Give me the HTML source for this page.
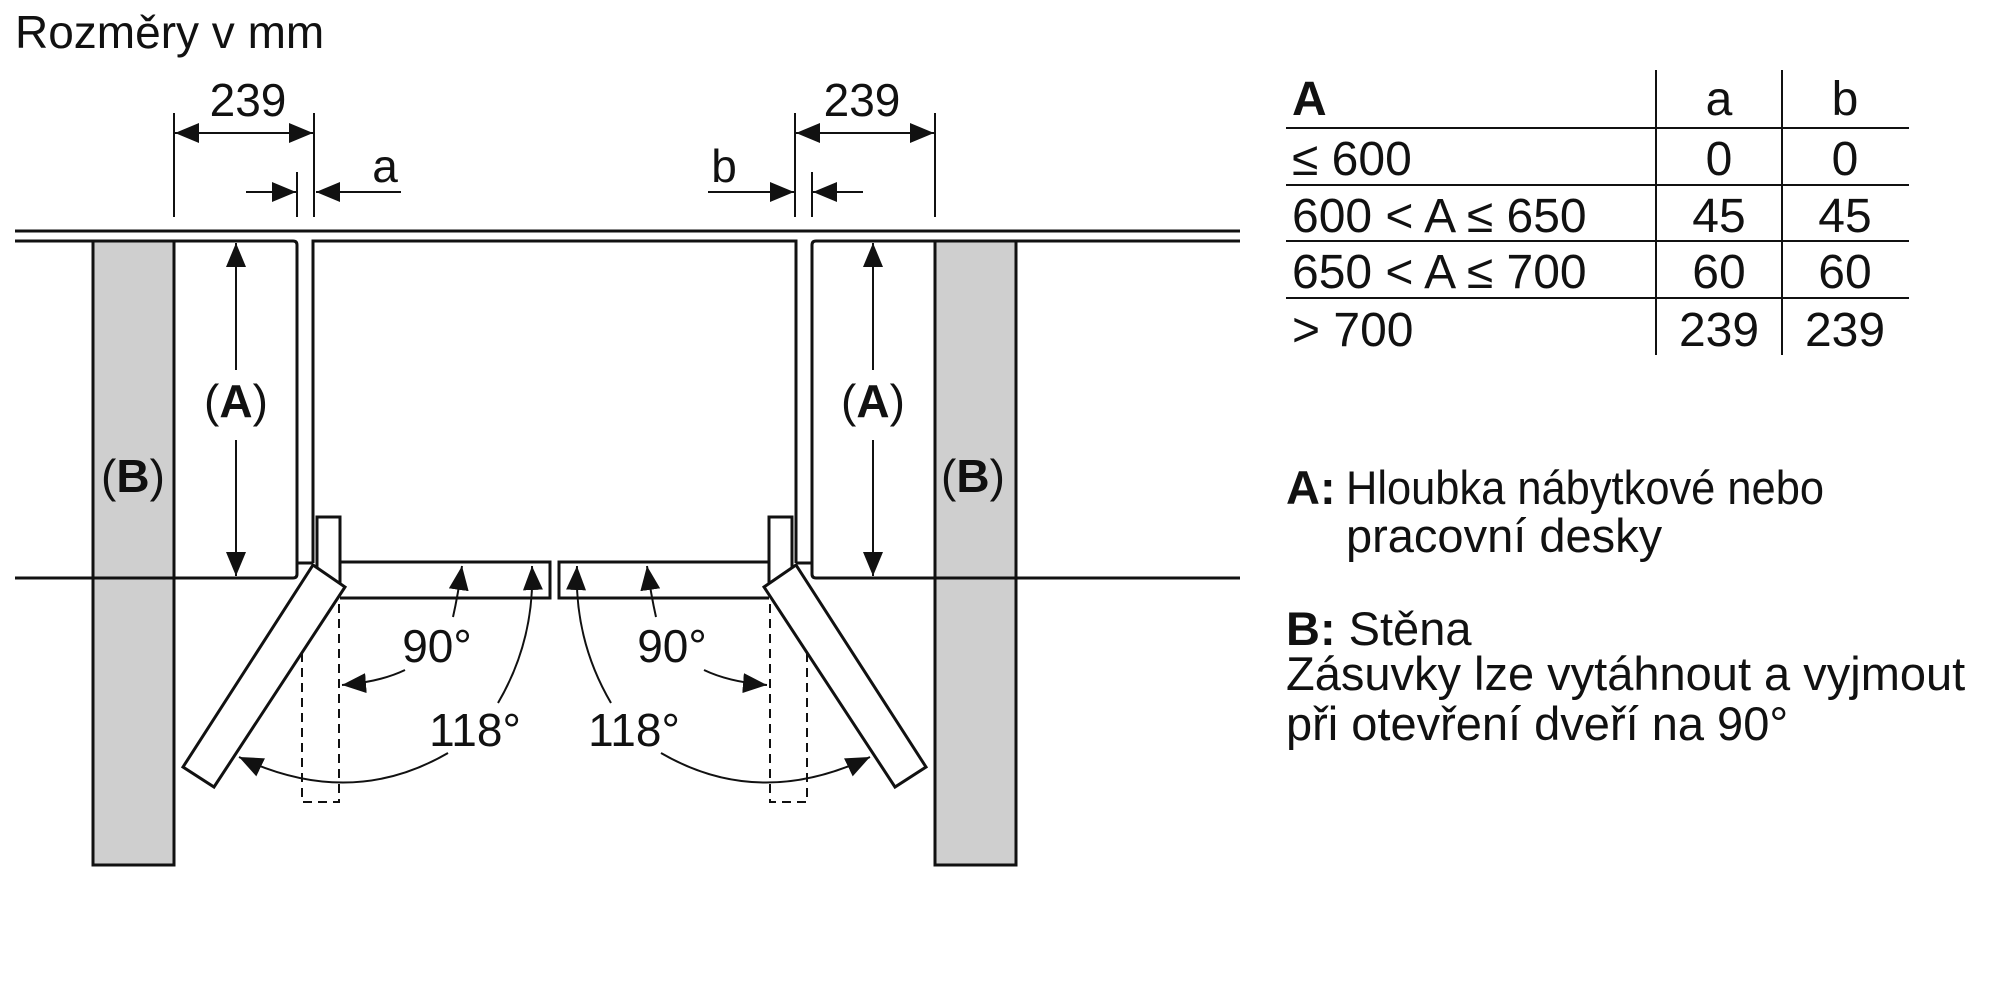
<!DOCTYPE html>
<html><head><meta charset="utf-8"><style>
html,body{margin:0;padding:0;background:#fff;}
svg{display:block;}
text{font-family:"Liberation Sans",Arial,sans-serif;fill:#111;}
</style></head><body>
<svg width="2000" height="1000" viewBox="0 0 2000 1000" xmlns="http://www.w3.org/2000/svg">
<defs>
<marker id="ah" viewBox="0 0 24 20" refX="24" refY="10" markerWidth="24" markerHeight="20" markerUnits="userSpaceOnUse" orient="auto">
<path d="M0,0 L24,10 L0,20 Z" fill="#111"/></marker>
</defs>
<text x="15" y="48" font-size="46">Rozměry v mm</text>

<rect x="93" y="241" width="81" height="624" fill="#cfcfcf" stroke="#111" stroke-width="3"/>
<rect x="935" y="241" width="81" height="624" fill="#cfcfcf" stroke="#111" stroke-width="3"/>

<g fill="none" stroke="#111" stroke-width="3">
<line x1="15" y1="231" x2="1240" y2="231"/>
<path d="M15,241 H293 Q297,241 297,245 V574 Q297,578 293,578 H15"/>
<path d="M1240,241 H816 Q812,241 812,245 V574 Q812,578 816,578 H1240"/>
<path d="M313,563 V241 H796 V563"/>
<path d="M297,570 V563 H313"/>
<path d="M812,570 V563 H796"/>
<rect x="317" y="517" width="23" height="67" fill="#fff"/>
<rect x="769" y="517" width="23" height="67" fill="#fff"/>
<path d="M340,562 H550 V598 H340"/>
<path d="M769,562 H559 V598 H769"/>
<polygon points="313,565 345,587 214,787 183,767" fill="#fff"/>
<polygon points="796,565 764,587 895,787 926,767" fill="#fff"/>
</g>
<g fill="none" stroke="#111" stroke-width="2" stroke-dasharray="9,6">
<path d="M302,653 V802 H339 V598"/>
<path d="M807,653 V802 H770 V598"/>
</g>

<g stroke="#111" stroke-width="2" fill="none">
<line x1="174" y1="113" x2="174" y2="217"/>
<line x1="314" y1="113" x2="314" y2="217"/>
<line x1="297" y1="172" x2="297" y2="217"/>
<line x1="795" y1="113" x2="795" y2="217"/>
<line x1="935" y1="113" x2="935" y2="217"/>
<line x1="812" y1="172" x2="812" y2="217"/>
<line x1="244" y1="133" x2="175" y2="133" marker-end="url(#ah)"/>
<line x1="244" y1="133" x2="313" y2="133" marker-end="url(#ah)"/>
<line x1="865" y1="133" x2="796" y2="133" marker-end="url(#ah)"/>
<line x1="865" y1="133" x2="934" y2="133" marker-end="url(#ah)"/>
<line x1="246" y1="192" x2="296" y2="192" marker-end="url(#ah)"/>
<line x1="401" y1="192" x2="316" y2="192" marker-end="url(#ah)"/>
<line x1="708" y1="192" x2="794" y2="192" marker-end="url(#ah)"/>
<line x1="863" y1="192" x2="813" y2="192" marker-end="url(#ah)"/>
<line x1="236" y1="370" x2="236" y2="243" marker-end="url(#ah)"/>
<line x1="236" y1="440" x2="236" y2="576" marker-end="url(#ah)"/>
<line x1="873" y1="370" x2="873" y2="243" marker-end="url(#ah)"/>
<line x1="873" y1="440" x2="873" y2="576" marker-end="url(#ah)"/>
<path d="M453,617 Q458,595 462,566" marker-end="url(#ah)"/>
<path d="M405,670 Q380,682 342,685" marker-end="url(#ah)"/>
<path d="M498,703 Q535,640 532,566" marker-end="url(#ah)"/>
<path d="M448,753 Q350,810 239,757" marker-end="url(#ah)"/>
<path d="M656,617 Q651,595 647,566" marker-end="url(#ah)"/>
<path d="M704,670 Q729,682 767,685" marker-end="url(#ah)"/>
<path d="M611,703 Q574,640 577,566" marker-end="url(#ah)"/>
<path d="M661,753 Q759,810 870,757" marker-end="url(#ah)"/>
</g>

<g font-size="46" text-anchor="middle">
<text x="248" y="116">239</text>
<text x="862" y="116">239</text>
<text x="385" y="182">a</text>
<text x="724" y="182">b</text>
<text x="437" y="662">90°</text>
<text x="672" y="662">90°</text>
<text x="475" y="746">118°</text>
<text x="634" y="746">118°</text>
<text x="236" y="417">(<tspan font-weight="bold">A</tspan>)</text>
<text x="873" y="417">(<tspan font-weight="bold">A</tspan>)</text>
<text x="133" y="492">(<tspan font-weight="bold">B</tspan>)</text>
<text x="973" y="492">(<tspan font-weight="bold">B</tspan>)</text>
</g>

<g stroke="#111" stroke-width="2">
<line x1="1656" y1="70" x2="1656" y2="355"/>
<line x1="1782" y1="70" x2="1782" y2="355"/>
<line x1="1286" y1="128" x2="1909" y2="128"/>
<line x1="1286" y1="185" x2="1909" y2="185"/>
<line x1="1286" y1="241" x2="1909" y2="241"/>
<line x1="1286" y1="298" x2="1909" y2="298"/>
</g>
<g font-size="48">
<text x="1292" y="115" font-weight="bold">A</text>
<text x="1292" y="175">≤ 600</text>
<text x="1292" y="232">600 &lt; A ≤ 650</text>
<text x="1292" y="288">650 &lt; A ≤ 700</text>
<text x="1292" y="346">&gt; 700</text>
<g text-anchor="middle">
<text x="1719" y="115">a</text><text x="1845" y="115">b</text>
<text x="1719" y="175">0</text><text x="1845" y="175">0</text>
<text x="1719" y="232">45</text><text x="1845" y="232">45</text>
<text x="1719" y="288">60</text><text x="1845" y="288">60</text>
<text x="1719" y="346">239</text><text x="1845" y="346">239</text>
</g>
</g>
<g font-size="47">
<text x="1286" y="504"><tspan font-weight="bold">A:</tspan></text>
<text x="1346" y="504" textLength="478" lengthAdjust="spacingAndGlyphs">Hloubka nábytkové nebo</text>
<text x="1346" y="552">pracovní desky</text>
<text x="1286" y="645"><tspan font-weight="bold">B:</tspan> Stěna</text>
<text x="1286" y="690">Zásuvky lze vytáhnout a vyjmout</text>
<text x="1286" y="740">při otevření dveří na 90°</text>
</g>
</svg>
</body></html>
